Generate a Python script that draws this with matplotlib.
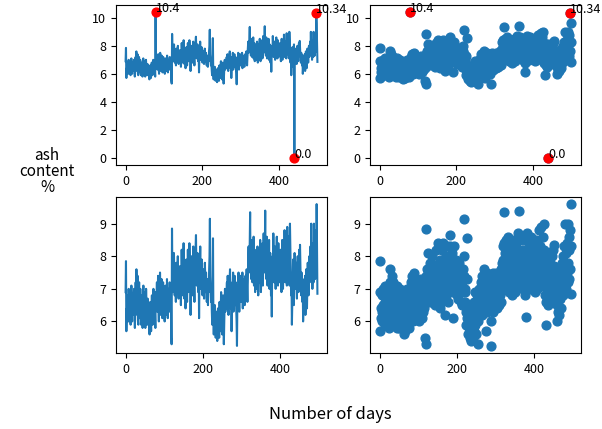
import numpy as np
import matplotlib
matplotlib.use("Agg")
import matplotlib.pyplot as plt

plt.rcParams['font.family'] = ['Noto Sans CJK SC', 'DejaVu Sans']

# cleaned daily ash content (%), outliers removed
ash_clean = [
    6.9, 7.85, 5.7, 6.4, 6.1, 6.8, 6.3, 6.0, 7.0, 6.5, 6.2, 6.9, 6.1, 5.9, 6.6, 7.1, 6.3, 6.0, 6.7, 6.4,
    6.2, 6.8, 7.0, 6.3, 5.8, 6.5, 7.2, 6.6, 7.6, 6.9, 6.2, 7.4, 6.0, 5.9, 6.7, 7.2, 6.4, 6.1, 7.0, 6.5,
    5.9, 6.3, 6.8, 6.1, 5.8, 6.6, 7.1, 6.2, 6.0, 6.9, 6.4, 5.8, 6.3, 7.0, 6.5, 6.1, 5.9, 6.7, 6.2, 6.0,
    6.4, 5.8, 5.6, 6.2, 6.6, 6.0, 5.7, 6.3, 6.8, 6.1, 5.9, 6.5, 7.0, 6.3, 6.0, 6.6, 6.2, 5.8, 6.9, 6.4,
    6.7, 7.2, 6.3, 6.9, 7.4, 6.5, 6.0, 7.1, 6.6, 7.5, 6.8, 6.2, 7.0, 7.3, 6.4, 6.1, 6.9, 7.2, 6.5, 6.8,
    6.3, 6.0, 6.7, 7.1, 6.4, 6.9, 6.2, 7.3, 6.6, 6.1, 6.8, 7.0, 6.5, 6.3, 7.2, 6.7, 6.4, 6.9, 5.5, 5.3,
    8.85, 7.4, 6.9, 7.6, 7.1, 8.1, 7.3, 6.8, 7.5, 7.0, 6.6, 7.8, 7.2, 6.9, 7.4, 8.0, 7.1, 6.7, 7.6, 7.3,
    6.9, 7.7, 7.2, 6.5, 7.4, 8.2, 7.6, 7.0, 6.8, 7.5, 8.4, 7.3, 6.7, 7.1, 7.8, 6.4, 7.2, 7.9, 7.0, 6.6,
    7.4, 8.2, 7.5, 6.9, 7.3, 8.4, 7.8, 7.1, 6.2, 7.0, 7.6, 8.0, 7.2, 6.8, 7.5, 8.3, 7.4, 7.0, 6.6, 7.3,
    7.9, 8.3, 8.65, 7.6, 7.1, 7.8, 8.1, 7.4, 6.9, 7.5, 6.1, 7.2, 7.7, 8.3, 7.5, 7.0, 7.3, 7.9, 7.1, 6.8,
    7.4, 7.6, 7.0, 6.7, 7.2, 7.8, 7.3, 6.9, 7.5, 7.1, 6.6, 7.3, 7.0, 6.5, 7.2, 6.9, 7.6, 8.0, 9.15, 7.4,
    7.0, 6.6, 6.9, 6.3, 5.9, 7.3, 8.55, 6.1, 5.6, 6.2, 5.8, 6.5, 6.0, 5.5, 6.3, 5.7, 6.1, 5.4, 6.0, 6.4,
    5.8, 6.2, 5.5, 6.6, 6.0, 5.7, 6.4, 6.9, 5.9, 6.3, 5.6, 6.1, 6.8, 6.2, 5.3, 6.0, 6.5, 7.0, 6.3, 6.7,
    6.4, 6.9, 7.2, 6.6, 7.4, 6.8, 6.2, 7.1, 6.5, 7.3, 7.6, 6.9, 6.4, 7.0, 5.7, 6.6, 7.2, 6.8, 7.5, 6.3,
    7.0, 6.7, 7.4, 6.5, 6.9, 7.2, 6.4, 6.0, 5.25, 6.6, 7.1, 6.8, 7.5, 7.0, 6.3, 7.3, 6.9, 7.4, 6.6, 7.0,
    7.2, 6.8, 7.5, 6.4, 7.0, 7.3, 6.7, 7.1, 6.5, 6.9, 7.4, 6.8, 7.2, 7.6, 7.0, 6.6, 7.3, 7.8, 8.3, 7.5,
    7.9, 8.4, 9.35, 7.6, 8.1, 7.3, 8.5, 7.8, 7.2, 8.0, 7.5, 8.6, 7.1, 7.7, 8.2, 6.9, 7.4, 8.0, 7.6, 7.0,
    7.8, 8.3, 7.4, 6.8, 7.5, 8.1, 7.2, 7.7, 8.5, 7.3, 6.9, 7.6, 8.0, 7.4, 8.4, 7.1, 7.8, 8.7, 7.5, 7.9,
    8.2, 9.4, 7.7, 8.0, 7.3, 8.6, 7.6, 7.1, 8.2, 7.8, 7.4, 8.5, 7.0, 7.7, 8.1, 7.5, 6.8, 7.3, 6.15, 7.6,
    8.0, 7.4, 8.7, 7.9, 7.2, 7.6, 8.3, 7.7, 7.0, 7.5, 8.1, 8.6, 7.3, 7.8, 7.1, 8.4, 7.6, 7.2, 8.0, 7.4,
    7.7, 8.2, 7.5, 6.9, 7.8, 8.5, 7.3, 7.0, 7.6, 8.1, 7.4, 8.8, 7.9, 7.2, 7.5, 8.3, 7.7, 7.1, 8.9, 7.8,
    7.4, 8.0, 8.6, 7.6, 7.1, 9.0, 8.2, 7.5, 6.8, 7.3, 5.9, 6.6, 7.2, 7.9, 7.0, 6.5, 7.4, 8.1, 7.6, 7.0,
    7.3, 7.8, 7.1, 6.7, 7.5, 8.0, 7.2, 6.9, 7.6, 8.2, 7.4, 8.35, 7.7, 7.1, 6.8, 7.5, 7.0, 6.6, 7.3, 6.0,
    6.5, 7.2, 6.3, 6.9, 7.4, 6.2, 6.7, 7.6, 7.0, 6.4, 7.1, 7.8, 7.3, 6.8, 7.5, 8.0, 7.2, 7.7, 8.3, 7.4,
    9.0, 7.6, 8.1, 7.0, 7.5, 8.4, 7.2, 9.0, 7.8, 8.6, 7.3, 8.2, 8.8, 7.6, 9.6, 8.3, 6.85,
]

# outliers found in the raw record
outlier_pos = [78, 438, 494]
outlier_val = [10.4, 0.0, 10.34]

clean = np.array(ash_clean)
raw = np.insert(clean, outlier_pos, outlier_val)
raw_x = np.arange(len(raw))
clean_x = np.arange(len(clean))
out_x = [p + k for k, p in enumerate(outlier_pos)]

fig = plt.figure(figsize=(6.02, 4.29), dpi=100)
ax1 = fig.add_axes([0.1927, 0.6154, 0.3505, 0.373])
ax2 = fig.add_axes([0.6146, 0.6154, 0.3505, 0.373])
ax3 = fig.add_axes([0.1927, 0.1772, 0.3505, 0.3636])
ax4 = fig.add_axes([0.6146, 0.1772, 0.3505, 0.3636])

# raw data with outliers marked
ax1.plot(raw_x, raw, color='#1f77b4', linewidth=1.5)
ax2.scatter(raw_x, raw, color='#1f77b4', s=40)
for ax in (ax1, ax2):
    ax.scatter(out_x, outlier_val, color='red', s=40, zorder=3)
    for x, v in zip(out_x, outlier_val):
        ax.text(x, v, str(v), fontsize=9, clip_on=False)
    ax.set_yticks([0, 2, 4, 6, 8, 10])

# cleaned data
ax3.plot(clean_x, clean, color='#1f77b4', linewidth=1.5)
ax4.scatter(clean_x, clean, color='#1f77b4', s=40)
for ax in (ax3, ax4):
    ax.set_yticks([6, 7, 8, 9])

for ax in (ax1, ax2, ax3, ax4):
    ax.set_xticks([0, 200, 400])
    ax.tick_params(labelsize=9)

fig.text(0.078, 0.6, 'ash\ncontent\n%', ha='center', va='center',
         fontsize=11, linespacing=0.9)
fig.text(0.548, 0.033, 'Number of days', ha='center', va='center', fontsize=12)

fig.savefig('out.png', dpi=100)
